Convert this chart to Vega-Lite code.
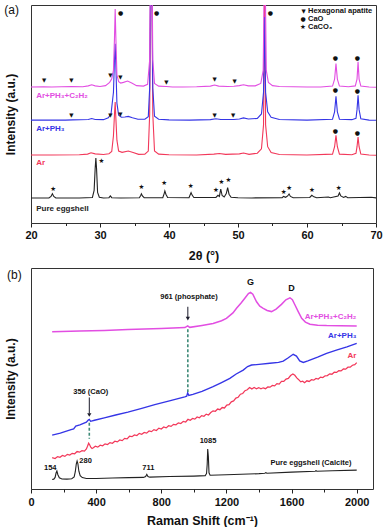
{
  "$schema": "https://vega.github.io/schema/vega-lite/v6.json",
  "padding": {"left": 3, "top": 3, "right": 7, "bottom": 0},
  "spacing": 5,
  "align": "none",
  "resolve": {"scale": {"x": "independent", "y": "independent"}},
  "config": {
    "font": "Liberation Sans",
    "view": {"stroke": "#333333", "strokeWidth": 1},
    "axis": {"grid": false, "labelColor": "#111111", "titleColor": "#111111", "tickColor": "#222222", "labelFont": "Liberation Sans", "titleFont": "Liberation Sans"},
    "text": {"font": "Liberation Sans"}
  },
  "datasets": {
    "xrd": [
      {"s":"Pure eggshell","x":20,"y":11.5},{"s":"Pure eggshell","x":22.6,"y":11.5},{"s":"Pure eggshell","x":22.9,"y":12.2},{"s":"Pure eggshell","x":23.1,"y":13.4},{"s":"Pure eggshell","x":23.3,"y":12.2},{"s":"Pure eggshell","x":23.6,"y":11.5},{"s":"Pure eggshell","x":25,"y":11.5},{"s":"Pure eggshell","x":27,"y":11.5},{"s":"Pure eggshell","x":28.9,"y":11.7},{"s":"Pure eggshell","x":29.15,"y":15},{"s":"Pure eggshell","x":29.3,"y":25},{"s":"Pure eggshell","x":29.4,"y":29.8},{"s":"Pure eggshell","x":29.5,"y":25},{"s":"Pure eggshell","x":29.65,"y":14},{"s":"Pure eggshell","x":29.9,"y":11.8},{"s":"Pure eggshell","x":30.5,"y":11.5},{"s":"Pure eggshell","x":31.3,"y":11.6},{"s":"Pure eggshell","x":31.5,"y":12.4},{"s":"Pure eggshell","x":31.7,"y":11.6},{"s":"Pure eggshell","x":33,"y":11.5},{"s":"Pure eggshell","x":35.7,"y":11.6},{"s":"Pure eggshell","x":35.9,"y":12.6},{"s":"Pure eggshell","x":36.0,"y":13.4},{"s":"Pure eggshell","x":36.15,"y":12.4},{"s":"Pure eggshell","x":36.4,"y":11.6},{"s":"Pure eggshell","x":39.1,"y":11.6},{"s":"Pure eggshell","x":39.3,"y":13.5},{"s":"Pure eggshell","x":39.4,"y":14.7},{"s":"Pure eggshell","x":39.55,"y":13.2},{"s":"Pure eggshell","x":39.8,"y":11.7},{"s":"Pure eggshell","x":42.9,"y":11.6},{"s":"Pure eggshell","x":43.1,"y":13.2},{"s":"Pure eggshell","x":43.2,"y":13.9},{"s":"Pure eggshell","x":43.35,"y":12.8},{"s":"Pure eggshell","x":43.6,"y":11.7},{"s":"Pure eggshell","x":46.8,"y":11.7},{"s":"Pure eggshell","x":47.1,"y":12.7},{"s":"Pure eggshell","x":47.3,"y":12.2},{"s":"Pure eggshell","x":47.5,"y":15.5},{"s":"Pure eggshell","x":47.7,"y":12.6},{"s":"Pure eggshell","x":48.0,"y":11.9},{"s":"Pure eggshell","x":48.3,"y":13.5},{"s":"Pure eggshell","x":48.5,"y":16.2},{"s":"Pure eggshell","x":48.7,"y":13.2},{"s":"Pure eggshell","x":49.0,"y":11.8},{"s":"Pure eggshell","x":50,"y":11.6},{"s":"Pure eggshell","x":52,"y":11.5},{"s":"Pure eggshell","x":56.4,"y":11.6},{"s":"Pure eggshell","x":56.6,"y":12.2},{"s":"Pure eggshell","x":56.9,"y":11.8},{"s":"Pure eggshell","x":57.2,"y":12.4},{"s":"Pure eggshell","x":57.4,"y":13.3},{"s":"Pure eggshell","x":57.6,"y":12.2},{"s":"Pure eggshell","x":58,"y":11.6},{"s":"Pure eggshell","x":60.4,"y":11.7},{"s":"Pure eggshell","x":60.7,"y":12.7},{"s":"Pure eggshell","x":61.0,"y":12.0},{"s":"Pure eggshell","x":61.4,"y":11.6},{"s":"Pure eggshell","x":63.1,"y":11.9},{"s":"Pure eggshell","x":63.4,"y":11.6},{"s":"Pure eggshell","x":64.5,"y":12.4},{"s":"Pure eggshell","x":64.7,"y":13.8},{"s":"Pure eggshell","x":64.9,"y":12.4},{"s":"Pure eggshell","x":65.3,"y":11.7},{"s":"Pure eggshell","x":65.6,"y":12.2},{"s":"Pure eggshell","x":65.9,"y":11.6},{"s":"Pure eggshell","x":69.3,"y":11.8},{"s":"Pure eggshell","x":70,"y":11.5},
      {"s":"Ar","x":20,"y":31.2},{"s":"Ar","x":23,"y":31.2},{"s":"Ar","x":27,"y":31.3},{"s":"Ar","x":28.2,"y":31.6},{"s":"Ar","x":28.7,"y":32.2},{"s":"Ar","x":29.3,"y":31.7},{"s":"Ar","x":30.5,"y":31.4},{"s":"Ar","x":31.3,"y":31.8},{"s":"Ar","x":31.7,"y":32.8},{"s":"Ar","x":31.95,"y":40},{"s":"Ar","x":32.1,"y":50},{"s":"Ar","x":32.2,"y":55.5},{"s":"Ar","x":32.3,"y":48},{"s":"Ar","x":32.45,"y":38},{"s":"Ar","x":32.7,"y":33},{"s":"Ar","x":33.2,"y":32.4},{"s":"Ar","x":34.1,"y":33.0},{"s":"Ar","x":34.8,"y":32.3},{"s":"Ar","x":35.6,"y":31.5},{"s":"Ar","x":36.5,"y":31.6},{"s":"Ar","x":37.0,"y":33},{"s":"Ar","x":37.2,"y":50},{"s":"Ar","x":37.35,"y":120},{"s":"Ar","x":37.5,"y":120},{"s":"Ar","x":37.65,"y":50},{"s":"Ar","x":37.9,"y":33},{"s":"Ar","x":38.5,"y":31.6},{"s":"Ar","x":40,"y":31.3},{"s":"Ar","x":44,"y":31.2},{"s":"Ar","x":46.5,"y":31.6},{"s":"Ar","x":47.3,"y":31.9},{"s":"Ar","x":48.2,"y":31.5},{"s":"Ar","x":50.2,"y":31.7},{"s":"Ar","x":50.8,"y":32.1},{"s":"Ar","x":51.6,"y":31.5},{"s":"Ar","x":52.8,"y":32},{"s":"Ar","x":53.4,"y":34},{"s":"Ar","x":53.7,"y":45},{"s":"Ar","x":53.85,"y":110},{"s":"Ar","x":54.0,"y":45},{"s":"Ar","x":54.3,"y":35},{"s":"Ar","x":54.8,"y":32.3},{"s":"Ar","x":56,"y":31.4},{"s":"Ar","x":60,"y":31.2},{"s":"Ar","x":63.7,"y":31.6},{"s":"Ar","x":64.0,"y":35},{"s":"Ar","x":64.2,"y":40.2},{"s":"Ar","x":64.4,"y":35},{"s":"Ar","x":64.7,"y":31.6},{"s":"Ar","x":66.5,"y":31.3},{"s":"Ar","x":67.1,"y":32},{"s":"Ar","x":67.25,"y":35},{"s":"Ar","x":67.4,"y":39.4},{"s":"Ar","x":67.55,"y":35},{"s":"Ar","x":67.8,"y":31.6},{"s":"Ar","x":69,"y":31.2},{"s":"Ar","x":70,"y":31.1},
      {"s":"Ar+PH₃","x":20,"y":47.2},{"s":"Ar+PH₃","x":22,"y":47.2},{"s":"Ar+PH₃","x":25,"y":47.2},{"s":"Ar+PH₃","x":26,"y":47.3},{"s":"Ar+PH₃","x":28.3,"y":47.5},{"s":"Ar+PH₃","x":28.8,"y":47.9},{"s":"Ar+PH₃","x":29.3,"y":47.5},{"s":"Ar+PH₃","x":30.5,"y":47.4},{"s":"Ar+PH₃","x":31.2,"y":48.3},{"s":"Ar+PH₃","x":31.6,"y":50.1},{"s":"Ar+PH₃","x":31.95,"y":60},{"s":"Ar+PH₃","x":32.1,"y":75},{"s":"Ar+PH₃","x":32.2,"y":82.2},{"s":"Ar+PH₃","x":32.3,"y":72},{"s":"Ar+PH₃","x":32.45,"y":55},{"s":"Ar+PH₃","x":32.7,"y":49.5},{"s":"Ar+PH₃","x":33.1,"y":48.5},{"s":"Ar+PH₃","x":33.6,"y":48.6},{"s":"Ar+PH₃","x":34.1,"y":48.9},{"s":"Ar+PH₃","x":34.7,"y":48.3},{"s":"Ar+PH₃","x":35.5,"y":47.6},{"s":"Ar+PH₃","x":36.5,"y":47.6},{"s":"Ar+PH₃","x":37.0,"y":48.8},{"s":"Ar+PH₃","x":37.2,"y":62},{"s":"Ar+PH₃","x":37.35,"y":120},{"s":"Ar+PH₃","x":37.5,"y":120},{"s":"Ar+PH₃","x":37.65,"y":62},{"s":"Ar+PH₃","x":37.9,"y":49},{"s":"Ar+PH₃","x":38.5,"y":47.6},{"s":"Ar+PH₃","x":40,"y":47.3},{"s":"Ar+PH₃","x":43,"y":47.2},{"s":"Ar+PH₃","x":46,"y":47.4},{"s":"Ar+PH₃","x":46.8,"y":47.8},{"s":"Ar+PH₃","x":47.5,"y":47.5},{"s":"Ar+PH₃","x":49.4,"y":47.5},{"s":"Ar+PH₃","x":50.2,"y":47.7},{"s":"Ar+PH₃","x":50.8,"y":48.2},{"s":"Ar+PH₃","x":51.5,"y":47.7},{"s":"Ar+PH₃","x":52.8,"y":48},{"s":"Ar+PH₃","x":53.4,"y":50},{"s":"Ar+PH₃","x":53.7,"y":60},{"s":"Ar+PH₃","x":53.85,"y":94.5},{"s":"Ar+PH₃","x":54.0,"y":60},{"s":"Ar+PH₃","x":54.3,"y":51},{"s":"Ar+PH₃","x":54.8,"y":48.5},{"s":"Ar+PH₃","x":56,"y":47.5},{"s":"Ar+PH₃","x":60,"y":47.2},{"s":"Ar+PH₃","x":63.7,"y":47.6},{"s":"Ar+PH₃","x":64.0,"y":51},{"s":"Ar+PH₃","x":64.2,"y":58.1},{"s":"Ar+PH₃","x":64.4,"y":51},{"s":"Ar+PH₃","x":64.7,"y":47.6},{"s":"Ar+PH₃","x":66.5,"y":47.4},{"s":"Ar+PH₃","x":67.1,"y":48},{"s":"Ar+PH₃","x":67.25,"y":52},{"s":"Ar+PH₃","x":67.4,"y":58.6},{"s":"Ar+PH₃","x":67.55,"y":52},{"s":"Ar+PH₃","x":67.8,"y":47.8},{"s":"Ar+PH₃","x":69,"y":47.2},{"s":"Ar+PH₃","x":70,"y":47.1},
      {"s":"Ar+PH₃+C₂H₂","x":20,"y":62.4},{"s":"Ar+PH₃+C₂H₂","x":21.8,"y":62.5},{"s":"Ar+PH₃+C₂H₂","x":23,"y":62.4},{"s":"Ar+PH₃+C₂H₂","x":25.9,"y":62.6},{"s":"Ar+PH₃+C₂H₂","x":27.5,"y":62.5},{"s":"Ar+PH₃+C₂H₂","x":28.3,"y":62.9},{"s":"Ar+PH₃+C₂H₂","x":28.8,"y":63.4},{"s":"Ar+PH₃+C₂H₂","x":29.3,"y":62.9},{"s":"Ar+PH₃+C₂H₂","x":30.0,"y":62.6},{"s":"Ar+PH₃+C₂H₂","x":30.8,"y":63.0},{"s":"Ar+PH₃+C₂H₂","x":31.4,"y":64.5},{"s":"Ar+PH₃+C₂H₂","x":31.7,"y":66.2},{"s":"Ar+PH₃+C₂H₂","x":31.95,"y":70},{"s":"Ar+PH₃+C₂H₂","x":32.1,"y":85},{"s":"Ar+PH₃+C₂H₂","x":32.2,"y":98.2},{"s":"Ar+PH₃+C₂H₂","x":32.3,"y":85},{"s":"Ar+PH₃+C₂H₂","x":32.45,"y":68},{"s":"Ar+PH₃+C₂H₂","x":32.7,"y":64.8},{"s":"Ar+PH₃+C₂H₂","x":33.0,"y":64.2},{"s":"Ar+PH₃+C₂H₂","x":33.4,"y":64.5},{"s":"Ar+PH₃+C₂H₂","x":34.0,"y":65.1},{"s":"Ar+PH₃+C₂H₂","x":34.6,"y":64.2},{"s":"Ar+PH₃+C₂H₂","x":35.3,"y":63.0},{"s":"Ar+PH₃+C₂H₂","x":36.3,"y":62.8},{"s":"Ar+PH₃+C₂H₂","x":36.9,"y":63.6},{"s":"Ar+PH₃+C₂H₂","x":37.2,"y":75},{"s":"Ar+PH₃+C₂H₂","x":37.35,"y":130},{"s":"Ar+PH₃+C₂H₂","x":37.5,"y":130},{"s":"Ar+PH₃+C₂H₂","x":37.65,"y":75},{"s":"Ar+PH₃+C₂H₂","x":37.9,"y":64},{"s":"Ar+PH₃+C₂H₂","x":38.5,"y":62.8},{"s":"Ar+PH₃+C₂H₂","x":39.6,"y":62.6},{"s":"Ar+PH₃+C₂H₂","x":40.5,"y":62.4},{"s":"Ar+PH₃+C₂H₂","x":42,"y":62.4},{"s":"Ar+PH₃+C₂H₂","x":44,"y":62.5},{"s":"Ar+PH₃+C₂H₂","x":46,"y":62.8},{"s":"Ar+PH₃+C₂H₂","x":46.6,"y":63.3},{"s":"Ar+PH₃+C₂H₂","x":47.2,"y":62.8},{"s":"Ar+PH₃+C₂H₂","x":48.5,"y":62.6},{"s":"Ar+PH₃+C₂H₂","x":49.4,"y":62.7},{"s":"Ar+PH₃+C₂H₂","x":50.2,"y":63.0},{"s":"Ar+PH₃+C₂H₂","x":50.8,"y":63.4},{"s":"Ar+PH₃+C₂H₂","x":51.5,"y":62.9},{"s":"Ar+PH₃+C₂H₂","x":52.5,"y":62.9},{"s":"Ar+PH₃+C₂H₂","x":53.3,"y":64},{"s":"Ar+PH₃+C₂H₂","x":53.65,"y":70},{"s":"Ar+PH₃+C₂H₂","x":53.8,"y":110},{"s":"Ar+PH₃+C₂H₂","x":53.95,"y":110},{"s":"Ar+PH₃+C₂H₂","x":54.1,"y":70},{"s":"Ar+PH₃+C₂H₂","x":54.4,"y":64.5},{"s":"Ar+PH₃+C₂H₂","x":55.0,"y":63.0},{"s":"Ar+PH₃+C₂H₂","x":56,"y":62.6},{"s":"Ar+PH₃+C₂H₂","x":58,"y":62.5},{"s":"Ar+PH₃+C₂H₂","x":60,"y":62.4},{"s":"Ar+PH₃+C₂H₂","x":62,"y":62.4},{"s":"Ar+PH₃+C₂H₂","x":63.7,"y":62.8},{"s":"Ar+PH₃+C₂H₂","x":64.0,"y":66},{"s":"Ar+PH₃+C₂H₂","x":64.2,"y":73.1},{"s":"Ar+PH₃+C₂H₂","x":64.4,"y":66},{"s":"Ar+PH₃+C₂H₂","x":64.7,"y":62.8},{"s":"Ar+PH₃+C₂H₂","x":66,"y":62.5},{"s":"Ar+PH₃+C₂H₂","x":67,"y":62.9},{"s":"Ar+PH₃+C₂H₂","x":67.25,"y":66},{"s":"Ar+PH₃+C₂H₂","x":67.4,"y":73.9},{"s":"Ar+PH₃+C₂H₂","x":67.55,"y":66},{"s":"Ar+PH₃+C₂H₂","x":67.8,"y":62.8},{"s":"Ar+PH₃+C₂H₂","x":69,"y":62.4},{"s":"Ar+PH₃+C₂H₂","x":70,"y":62.3}
    ],
    "xrdMarks": [
      {"x":21.9,"y":65.4,"m":"▼"},{"x":25.85,"y":65.4,"m":"▼"},{"x":31.5,"y":67.7,"m":"▼"},{"x":32.96,"y":66.8,"m":"▼"},{"x":39.6,"y":64.7,"m":"▼"},{"x":46.6,"y":65.9,"m":"▼"},{"x":49.5,"y":65.0,"m":"▼"},
      {"x":33.0,"y":96.5,"m":"●"},{"x":38.2,"y":96.3,"m":"●"},{"x":54.7,"y":96.3,"m":"●"},{"x":64.1,"y":75.8,"m":"●"},{"x":67.3,"y":75.8,"m":"●"},
      {"x":25.85,"y":49.4,"m":"▼"},{"x":31.5,"y":49.4,"m":"▼"},{"x":32.96,"y":50.1,"m":"▼"},{"x":46.6,"y":49.7,"m":"▼"},{"x":49.3,"y":49.7,"m":"▼"},
      {"x":64.1,"y":60.9,"m":"●"},{"x":67.3,"y":60.4,"m":"●"},
      {"x":64.1,"y":42.2,"m":"●"},{"x":67.3,"y":41.4,"m":"●"},
      {"x":23.2,"y":15.7,"m":"★"},{"x":30.2,"y":28.3,"m":"★"},{"x":36.0,"y":16.5,"m":"★"},{"x":39.3,"y":18.3,"m":"★"},{"x":43.15,"y":17.0,"m":"★"},{"x":46.8,"y":15.0,"m":"★"},{"x":47.6,"y":18.8,"m":"★"},{"x":48.6,"y":19.9,"m":"★"},{"x":56.6,"y":14.2,"m":"★"},{"x":57.4,"y":16.1,"m":"★"},{"x":60.7,"y":15.0,"m":"★"},{"x":64.6,"y":16.1,"m":"★"},
      {"x":59.5,"y":97.3,"m":"▼"},{"x":59.45,"y":93.5,"m":"●"},{"x":59.4,"y":89.7,"m":"★"}
    ],
    "xrdLegendText": [
      {"x":60.15,"y":97.3,"t":"Hexagonal apatite"},{"x":60.15,"y":93.5,"t":"CaO"},{"x":60.15,"y":89.7,"t":"CaCO₃"}
    ],
    "xrdLabels": [
      {"x":20.75,"y":58.1,"s":"Ar+PH₃+C₂H₂","t":"Ar+PH₃+C₂H₂"},{"x":20.75,"y":43.2,"s":"Ar+PH₃","t":"Ar+PH₃"},{"x":20.75,"y":27.5,"s":"Ar","t":"Ar"},{"x":20.75,"y":6.4,"s":"Pure eggshell","t":"Pure eggshell"}
    ],
    "panelA": [{"x":17.2,"y":97.6,"t":"(a)"}],
    "raman": [
      {"s":"Pure eggshell","x":130,"y":3.4},{"s":"Pure eggshell","x":140,"y":3.6},{"s":"Pure eggshell","x":148,"y":4.4},{"s":"Pure eggshell","x":154,"y":6.4},{"s":"Pure eggshell","x":159,"y":7.3},{"s":"Pure eggshell","x":165,"y":5.6},{"s":"Pure eggshell","x":174,"y":4.2},{"s":"Pure eggshell","x":190,"y":3.7},{"s":"Pure eggshell","x":220,"y":3.6},{"s":"Pure eggshell","x":250,"y":3.8},{"s":"Pure eggshell","x":265,"y":4.6},{"s":"Pure eggshell","x":272,"y":7.0},{"s":"Pure eggshell","x":278,"y":10.5},{"s":"Pure eggshell","x":283,"y":11.9},{"s":"Pure eggshell","x":288,"y":10.6},{"s":"Pure eggshell","x":294,"y":7.2},{"s":"Pure eggshell","x":302,"y":5.2},{"s":"Pure eggshell","x":315,"y":4.3},{"s":"Pure eggshell","x":340,"y":3.9},{"s":"Pure eggshell","x":400,"y":3.9},{"s":"Pure eggshell","x":500,"y":4.1},{"s":"Pure eggshell","x":600,"y":4.3},{"s":"Pure eggshell","x":690,"y":4.4},{"s":"Pure eggshell","x":704,"y":4.8},{"s":"Pure eggshell","x":711,"y":5.8},{"s":"Pure eggshell","x":718,"y":4.8},{"s":"Pure eggshell","x":730,"y":4.5},{"s":"Pure eggshell","x":850,"y":4.8},{"s":"Pure eggshell","x":1000,"y":5.0},{"s":"Pure eggshell","x":1070,"y":5.2},{"s":"Pure eggshell","x":1078,"y":6.2},{"s":"Pure eggshell","x":1082,"y":10.5},{"s":"Pure eggshell","x":1085,"y":17.3},{"s":"Pure eggshell","x":1089,"y":14},{"s":"Pure eggshell","x":1093,"y":6.5},{"s":"Pure eggshell","x":1100,"y":5.4},{"s":"Pure eggshell","x":1200,"y":5.6},{"s":"Pure eggshell","x":1400,"y":6.1},{"s":"Pure eggshell","x":1436,"y":6.3},{"s":"Pure eggshell","x":1442,"y":6.6},{"s":"Pure eggshell","x":1448,"y":6.3},{"s":"Pure eggshell","x":1600,"y":6.8},{"s":"Pure eggshell","x":1745,"y":7.2},{"s":"Pure eggshell","x":1750,"y":7.5},{"s":"Pure eggshell","x":1755,"y":7.2},{"s":"Pure eggshell","x":1850,"y":7.4},{"s":"Pure eggshell","x":2000,"y":7.7},
      {"s":"Ar","x":130,"y":13.4},{"s":"Ar","x":148,"y":13.0},{"s":"Ar","x":163,"y":13.9},{"s":"Ar","x":178,"y":13.6},{"s":"Ar","x":193,"y":14.4},{"s":"Ar","x":208,"y":14.0},{"s":"Ar","x":223,"y":14.9},{"s":"Ar","x":238,"y":14.6},{"s":"Ar","x":253,"y":15.4},{"s":"Ar","x":268,"y":15.2},{"s":"Ar","x":283,"y":16.2},{"s":"Ar","x":298,"y":15.9},{"s":"Ar","x":313,"y":16.6},{"s":"Ar","x":328,"y":16.4},{"s":"Ar","x":340,"y":17.4},{"s":"Ar","x":347,"y":18.6},{"s":"Ar","x":354,"y":20.0},{"s":"Ar","x":360,"y":19.3},{"s":"Ar","x":367,"y":18.2},{"s":"Ar","x":375,"y":17.6},{"s":"Ar","x":383,"y":17.9},{"s":"Ar","x":395,"y":18.6},{"s":"Ar","x":410,"y":18.2},{"s":"Ar","x":425,"y":19.1},{"s":"Ar","x":440,"y":18.8},{"s":"Ar","x":455,"y":19.7},{"s":"Ar","x":470,"y":19.4},{"s":"Ar","x":485,"y":20.3},{"s":"Ar","x":500,"y":20.0},{"s":"Ar","x":515,"y":20.9},{"s":"Ar","x":530,"y":20.6},{"s":"Ar","x":545,"y":21.5},{"s":"Ar","x":560,"y":21.2},{"s":"Ar","x":575,"y":22.2},{"s":"Ar","x":590,"y":22.0},{"s":"Ar","x":605,"y":23.2},{"s":"Ar","x":620,"y":23.0},{"s":"Ar","x":635,"y":23.8},{"s":"Ar","x":650,"y":23.5},{"s":"Ar","x":665,"y":24.5},{"s":"Ar","x":680,"y":24.1},{"s":"Ar","x":695,"y":24.9},{"s":"Ar","x":710,"y":24.6},{"s":"Ar","x":725,"y":25.6},{"s":"Ar","x":740,"y":25.3},{"s":"Ar","x":755,"y":26.2},{"s":"Ar","x":770,"y":25.8},{"s":"Ar","x":785,"y":26.9},{"s":"Ar","x":800,"y":26.5},{"s":"Ar","x":815,"y":27.4},{"s":"Ar","x":830,"y":27.0},{"s":"Ar","x":845,"y":28.0},{"s":"Ar","x":860,"y":27.7},{"s":"Ar","x":875,"y":28.6},{"s":"Ar","x":890,"y":28.4},{"s":"Ar","x":905,"y":29.3},{"s":"Ar","x":920,"y":29.0},{"s":"Ar","x":935,"y":30.0},{"s":"Ar","x":950,"y":29.7},{"s":"Ar","x":964,"y":30.9},{"s":"Ar","x":978,"y":30.5},{"s":"Ar","x":992,"y":31.3},{"s":"Ar","x":1006,"y":31.0},{"s":"Ar","x":1020,"y":32.0},{"s":"Ar","x":1034,"y":31.6},{"s":"Ar","x":1048,"y":32.6},{"s":"Ar","x":1062,"y":32.3},{"s":"Ar","x":1076,"y":33.3},{"s":"Ar","x":1090,"y":32.9},{"s":"Ar","x":1104,"y":34.0},{"s":"Ar","x":1118,"y":34.8},{"s":"Ar","x":1132,"y":34.6},{"s":"Ar","x":1146,"y":35.6},{"s":"Ar","x":1160,"y":35.3},{"s":"Ar","x":1174,"y":36.3},{"s":"Ar","x":1188,"y":36.1},{"s":"Ar","x":1202,"y":37.4},{"s":"Ar","x":1216,"y":37.6},{"s":"Ar","x":1230,"y":38.9},{"s":"Ar","x":1244,"y":39.3},{"s":"Ar","x":1258,"y":40.6},{"s":"Ar","x":1272,"y":41.0},{"s":"Ar","x":1286,"y":42.4},{"s":"Ar","x":1300,"y":42.7},{"s":"Ar","x":1314,"y":44.0},{"s":"Ar","x":1328,"y":44.4},{"s":"Ar","x":1342,"y":45.4},{"s":"Ar","x":1356,"y":44.8},{"s":"Ar","x":1370,"y":45.5},{"s":"Ar","x":1384,"y":44.9},{"s":"Ar","x":1398,"y":45.4},{"s":"Ar","x":1412,"y":44.8},{"s":"Ar","x":1426,"y":45.3},{"s":"Ar","x":1440,"y":44.9},{"s":"Ar","x":1454,"y":45.7},{"s":"Ar","x":1468,"y":45.6},{"s":"Ar","x":1482,"y":46.4},{"s":"Ar","x":1496,"y":46.2},{"s":"Ar","x":1510,"y":47.2},{"s":"Ar","x":1524,"y":47.0},{"s":"Ar","x":1538,"y":48.2},{"s":"Ar","x":1552,"y":48.2},{"s":"Ar","x":1566,"y":49.3},{"s":"Ar","x":1580,"y":49.6},{"s":"Ar","x":1594,"y":50.9},{"s":"Ar","x":1608,"y":51.6},{"s":"Ar","x":1620,"y":51.0},{"s":"Ar","x":1632,"y":49.8},{"s":"Ar","x":1644,"y":49.0},{"s":"Ar","x":1656,"y":48.0},{"s":"Ar","x":1668,"y":48.3},{"s":"Ar","x":1680,"y":47.6},{"s":"Ar","x":1694,"y":48.5},{"s":"Ar","x":1708,"y":48.2},{"s":"Ar","x":1722,"y":49.0},{"s":"Ar","x":1736,"y":48.8},{"s":"Ar","x":1750,"y":49.6},{"s":"Ar","x":1764,"y":49.3},{"s":"Ar","x":1778,"y":50.2},{"s":"Ar","x":1792,"y":50.0},{"s":"Ar","x":1806,"y":50.8},{"s":"Ar","x":1820,"y":50.9},{"s":"Ar","x":1834,"y":51.7},{"s":"Ar","x":1848,"y":51.5},{"s":"Ar","x":1862,"y":52.4},{"s":"Ar","x":1876,"y":52.3},{"s":"Ar","x":1890,"y":53.1},{"s":"Ar","x":1904,"y":53.0},{"s":"Ar","x":1918,"y":53.9},{"s":"Ar","x":1932,"y":53.8},{"s":"Ar","x":1946,"y":54.7},{"s":"Ar","x":1960,"y":54.7},{"s":"Ar","x":1974,"y":55.6},{"s":"Ar","x":1988,"y":55.9},{"s":"Ar","x":2000,"y":56.8},
      {"s":"Ar+PH₃","x":130,"y":23.7},{"s":"Ar+PH₃","x":180,"y":24.6},{"s":"Ar+PH₃","x":246,"y":26.2},{"s":"Ar+PH₃","x":262,"y":26.5},{"s":"Ar+PH₃","x":275,"y":27.8},{"s":"Ar+PH₃","x":300,"y":28.4},{"s":"Ar+PH₃","x":340,"y":29.6},{"s":"Ar+PH₃","x":352,"y":30.6},{"s":"Ar+PH₃","x":358,"y":30.9},{"s":"Ar+PH₃","x":366,"y":30.0},{"s":"Ar+PH₃","x":390,"y":30.5},{"s":"Ar+PH₃","x":450,"y":31.6},{"s":"Ar+PH₃","x":520,"y":32.9},{"s":"Ar+PH₃","x":595,"y":34.2},{"s":"Ar+PH₃","x":680,"y":35.9},{"s":"Ar+PH₃","x":760,"y":37.6},{"s":"Ar+PH₃","x":850,"y":39.3},{"s":"Ar+PH₃","x":944,"y":41.2},{"s":"Ar+PH₃","x":956,"y":41.5},{"s":"Ar+PH₃","x":962,"y":43.0},{"s":"Ar+PH₃","x":969,"y":41.8},{"s":"Ar+PH₃","x":994,"y":42.3},{"s":"Ar+PH₃","x":1050,"y":43.7},{"s":"Ar+PH₃","x":1118,"y":45.8},{"s":"Ar+PH₃","x":1170,"y":47.7},{"s":"Ar+PH₃","x":1221,"y":49.6},{"s":"Ar+PH₃","x":1260,"y":51.6},{"s":"Ar+PH₃","x":1303,"y":53.4},{"s":"Ar+PH₃","x":1330,"y":55.0},{"s":"Ar+PH₃","x":1354,"y":55.7},{"s":"Ar+PH₃","x":1400,"y":56.0},{"s":"Ar+PH₃","x":1467,"y":56.5},{"s":"Ar+PH₃","x":1520,"y":56.9},{"s":"Ar+PH₃","x":1549,"y":57.5},{"s":"Ar+PH₃","x":1580,"y":59.0},{"s":"Ar+PH₃","x":1610,"y":60.6},{"s":"Ar+PH₃","x":1630,"y":59.8},{"s":"Ar+PH₃","x":1650,"y":57.6},{"s":"Ar+PH₃","x":1672,"y":56.9},{"s":"Ar+PH₃","x":1700,"y":57.6},{"s":"Ar+PH₃","x":1760,"y":59.3},{"s":"Ar+PH₃","x":1815,"y":61.0},{"s":"Ar+PH₃","x":1880,"y":62.6},{"s":"Ar+PH₃","x":1940,"y":64.0},{"s":"Ar+PH₃","x":2000,"y":65.6},
      {"s":"Ar+PH₃+C₂H₂","x":130,"y":70.9},{"s":"Ar+PH₃+C₂H₂","x":300,"y":71.2},{"s":"Ar+PH₃+C₂H₂","x":450,"y":71.5},{"s":"Ar+PH₃+C₂H₂","x":595,"y":71.9},{"s":"Ar+PH₃+C₂H₂","x":800,"y":72.4},{"s":"Ar+PH₃+C₂H₂","x":945,"y":72.8},{"s":"Ar+PH₃+C₂H₂","x":962,"y":73.6},{"s":"Ar+PH₃+C₂H₂","x":975,"y":72.9},{"s":"Ar+PH₃+C₂H₂","x":1050,"y":73.8},{"s":"Ar+PH₃+C₂H₂","x":1118,"y":74.7},{"s":"Ar+PH₃+C₂H₂","x":1170,"y":75.9},{"s":"Ar+PH₃+C₂H₂","x":1200,"y":77.0},{"s":"Ar+PH₃+C₂H₂","x":1240,"y":79.5},{"s":"Ar+PH₃+C₂H₂","x":1262,"y":81.6},{"s":"Ar+PH₃+C₂H₂","x":1290,"y":84.0},{"s":"Ar+PH₃+C₂H₂","x":1313,"y":86.2},{"s":"Ar+PH₃+C₂H₂","x":1335,"y":88.3},{"s":"Ar+PH₃+C₂H₂","x":1348,"y":88.9},{"s":"Ar+PH₃+C₂H₂","x":1362,"y":88.0},{"s":"Ar+PH₃+C₂H₂","x":1385,"y":84.6},{"s":"Ar+PH₃+C₂H₂","x":1405,"y":82.6},{"s":"Ar+PH₃+C₂H₂","x":1426,"y":81.6},{"s":"Ar+PH₃+C₂H₂","x":1450,"y":80.6},{"s":"Ar+PH₃+C₂H₂","x":1477,"y":80.1},{"s":"Ar+PH₃+C₂H₂","x":1505,"y":81.2},{"s":"Ar+PH₃+C₂H₂","x":1538,"y":83.4},{"s":"Ar+PH₃+C₂H₂","x":1565,"y":85.5},{"s":"Ar+PH₃+C₂H₂","x":1590,"y":86.4},{"s":"Ar+PH₃+C₂H₂","x":1605,"y":85.5},{"s":"Ar+PH₃+C₂H₂","x":1621,"y":83.1},{"s":"Ar+PH₃+C₂H₂","x":1640,"y":80.2},{"s":"Ar+PH₃+C₂H₂","x":1662,"y":77.0},{"s":"Ar+PH₃+C₂H₂","x":1685,"y":75.3},{"s":"Ar+PH₃+C₂H₂","x":1713,"y":74.3},{"s":"Ar+PH₃+C₂H₂","x":1760,"y":73.9},{"s":"Ar+PH₃+C₂H₂","x":1815,"y":73.7},{"s":"Ar+PH₃+C₂H₂","x":1900,"y":73.6},{"s":"Ar+PH₃+C₂H₂","x":2000,"y":73.5}
    ],
    "dashes": [{"x":963,"y":72.0,"y2":43.4},{"x":358,"y":29.3,"y2":22.0}],
    "arrows": [{"x":963,"y":82.3,"y2":77.5},{"x":358,"y":40.9,"y2":33.6}],
    "heads": [{"x":963,"y":76.9},{"x":358,"y":32.9}],
    "ramanNotes": [
      {"x":970,"y":86.9,"t":"961 (phosphate)"},{"x":367,"y":43.2,"t":"356 (CaO)"},{"x":1087,"y":21.0,"t":"1085"},{"x":118,"y":8.5,"t":"154"},{"x":335,"y":11.9,"t":"280"},{"x":721,"y":8.8,"t":"711"},{"x":1719,"y":11.1,"t":"Pure eggshell (Calcite)"}
    ],
    "ramanPeaks": [
      {"x":1348,"y":93.7,"t":"G"},{"x":1600,"y":91.0,"t":"D"}
    ],
    "ramanLabels": [
      {"x":1998,"y":77.5,"s":"Ar+PH₃+C₂H₂","t":"Ar+PH₃+C₂H₂"},{"x":1998,"y":68.9,"s":"Ar+PH₃","t":"Ar+PH₃"},{"x":1998,"y":60.0,"s":"Ar","t":"Ar"}
    ],
    "panelB": [{"x":-102,"y":96.8,"t":"(b)"}]
  },
  "vconcat": [
    {
      "width": 345,
      "height": 218,
      "encoding": {
        "x": {"field": "x", "type": "quantitative", "scale": {"domain": [20, 70], "nice": false, "zero": false},
          "axis": {"title": "2θ (°)", "values": [20,25,30,35,40,45,50,55,60,65,70], "labelExpr": "datum.value % 10 === 0 ? datum.label : ''",
            "tickSize": {"condition": {"test": "datum.value % 10 === 0", "value": 4}, "value": 2.5},
            "labelFontSize": 11, "labelFontWeight": "bold", "labelFlush": false, "labelOverlap": false, "labelPadding": 2,
            "titleFontSize": 12.5, "titleFontWeight": "bold", "titlePadding": 9, "domain": false}},
        "y": {"field": "y", "type": "quantitative", "scale": {"domain": [0, 100], "nice": false, "zero": false},
          "axis": {"title": "Intensity (a.u.)", "ticks": false, "labels": false, "domain": false, "titleFontSize": 12, "titleFontWeight": "bold", "titlePadding": 14}}
      },
      "layer": [
        {"data": {"name": "xrd"}, "mark": {"type": "line", "clip": true, "strokeWidth": 1.1},
          "encoding": {"color": {"field": "s", "type": "nominal", "scale": {"domain": ["Pure eggshell","Ar","Ar+PH₃","Ar+PH₃+C₂H₂"], "range": ["#222222","#f2385a","#3535e6","#e24ee2"]}, "legend": null}}},
        {"data": {"name": "xrdMarks"}, "mark": {"type": "text", "font": "DejaVu Sans", "color": "#111111", "baseline": "middle"},
          "encoding": {"text": {"field": "m"}, "size": {"field": "m", "type": "nominal", "scale": {"domain": ["▼","●","★"], "range": [5.5, 6.5, 8]}, "legend": null}}},
        {"data": {"name": "xrdLegendText"}, "mark": {"type": "text", "align": "left", "baseline": "middle", "fontSize": 7.5, "fontWeight": "bold", "color": "#111111"},
          "encoding": {"text": {"field": "t"}}},
        {"data": {"name": "xrdLabels"}, "mark": {"type": "text", "align": "left", "baseline": "middle", "fontSize": 8, "fontWeight": "bold"},
          "encoding": {"text": {"field": "t"}, "color": {"field": "s", "type": "nominal", "legend": null}}},
        {"data": {"name": "panelA"}, "mark": {"type": "text", "align": "center", "baseline": "middle", "fontSize": 12, "color": "#111111"},
          "encoding": {"text": {"field": "t"}}}
      ]
    },
    {
      "width": 342,
      "height": 221,
      "encoding": {
        "x": {"field": "x", "type": "quantitative", "scale": {"domain": [0, 2100], "nice": false, "zero": false},
          "axis": {"title": "Raman Shift (cm⁻¹)", "values": [0,200,400,600,800,1000,1200,1400,1600,1800,2000], "labelExpr": "datum.value % 400 === 0 ? datum.label : ''",
            "tickSize": {"condition": {"test": "datum.value % 400 === 0", "value": 4}, "value": 3},
            "format": "d", "labelFontSize": 11, "labelFontWeight": "bold", "labelFlush": false, "labelOverlap": false, "labelPadding": 3,
            "titleFontSize": 12.5, "titleFontWeight": "bold", "titlePadding": 7, "domain": false}},
        "y": {"field": "y", "type": "quantitative", "scale": {"domain": [-0.9, 100], "nice": false, "zero": false},
          "axis": {"title": "Intensity (a.u.)", "ticks": false, "labels": false, "domain": false, "titleFontSize": 12, "titleFontWeight": "bold", "titlePadding": 14}}
      },
      "layer": [
        {"data": {"name": "raman"}, "mark": {"type": "line", "clip": true},
          "encoding": {"color": {"field": "s", "type": "nominal", "scale": {"domain": ["Pure eggshell","Ar","Ar+PH₃","Ar+PH₃+C₂H₂"], "range": ["#222222","#f2385a","#3535e6","#e24ee2"]}, "legend": null},
            "strokeWidth": {"field": "s", "type": "nominal", "scale": {"domain": ["Pure eggshell","Ar","Ar+PH₃","Ar+PH₃+C₂H₂"], "range": [1.1, 1.5, 1.2, 1.2]}, "legend": null}}},
        {"data": {"name": "dashes"}, "mark": {"type": "rule", "strokeDash": [3, 2], "strokeWidth": 1.6, "color": "#3e8a78"},
          "encoding": {"y2": {"field": "y2"}}},
        {"data": {"name": "arrows"}, "mark": {"type": "rule", "strokeWidth": 1, "color": "#1a1a2a"},
          "encoding": {"y2": {"field": "y2"}}},
        {"data": {"name": "heads"}, "mark": {"type": "point", "shape": "triangle-down", "filled": true, "size": 18, "color": "#1a1a2a", "opacity": 1}},
        {"data": {"name": "ramanNotes"}, "mark": {"type": "text", "align": "center", "baseline": "middle", "fontSize": 7.5, "fontWeight": "bold", "color": "#111111"},
          "encoding": {"text": {"field": "t"}}},
        {"data": {"name": "ramanPeaks"}, "mark": {"type": "text", "align": "center", "baseline": "middle", "fontSize": 9, "fontWeight": "bold", "color": "#111111"},
          "encoding": {"text": {"field": "t"}}},
        {"data": {"name": "ramanLabels"}, "mark": {"type": "text", "align": "right", "baseline": "middle", "fontSize": 8, "fontWeight": "bold"},
          "encoding": {"text": {"field": "t"}, "color": {"field": "s", "type": "nominal", "legend": null}}},
        {"data": {"name": "panelB"}, "mark": {"type": "text", "align": "center", "baseline": "middle", "fontSize": 12, "color": "#111111"},
          "encoding": {"text": {"field": "t"}}}
      ]
    }
  ]
}
